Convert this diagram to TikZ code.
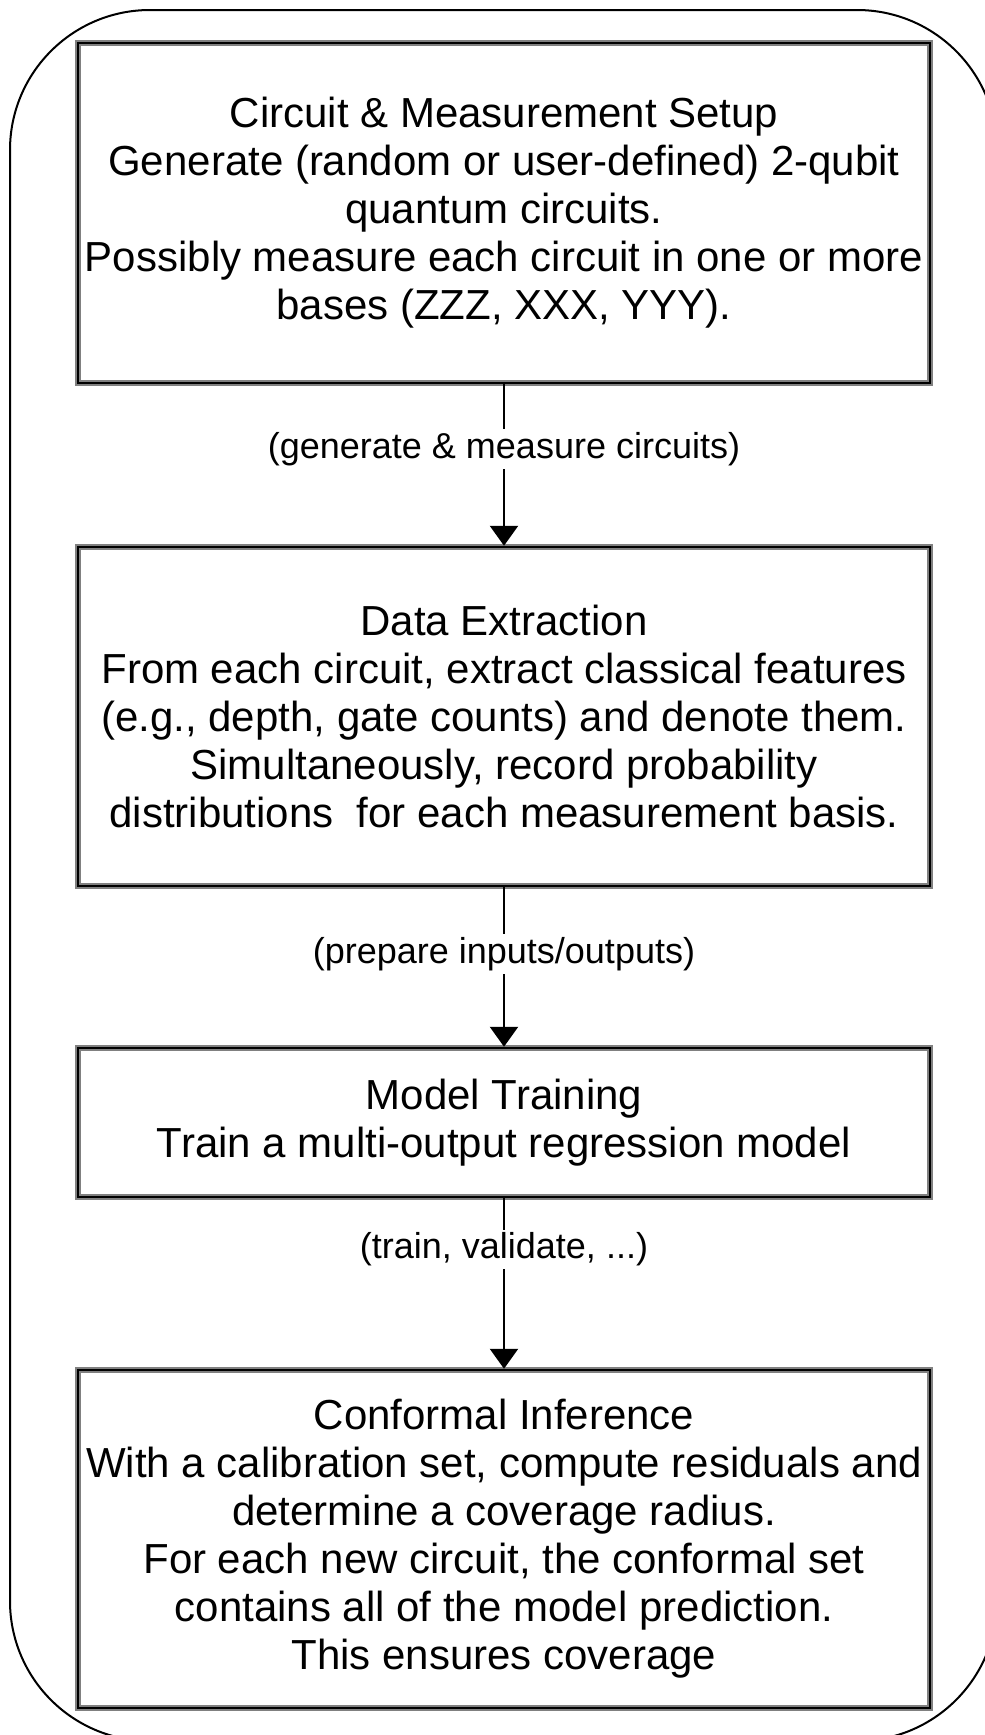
\documentclass[tikz,border=0pt]{standalone}
\usepackage{fontspec}
\setmainfont{Liberation Sans}
\usetikzlibrary{arrows.meta}

\begin{document}
\begin{tikzpicture}[x=1pt,y=-1pt]
    \tikzstyle{stage} = [draw=black,line width=2.5pt,
                         preaction={draw=black!50,line width=6pt},
                         minimum width=852pt,inner sep=0pt,align=center,
                         font=\fontsize{42}{48}\selectfont]
    \tikzstyle{flowlabel} = [fill=white,inner sep=3pt,
                             font=\fontsize{36}{40}\selectfont]
    \tikzstyle{flow} = [line width=2.5pt,-{Triangle[width=28pt,length=20pt]}]

    \useasboundingbox (0,0) rectangle (985,1735);
    % outer frame, it runs past the page at right and bottom
    \draw[line width=2pt,rounded corners=140pt] (10,10) rectangle (997,1741);

    \node[stage,minimum height=340pt] (setup) at (504,213)
        {Circuit \& Measurement Setup\\
         Generate (random or user-defined) 2-qubit\\
         quantum circuits.\\
         Possibly measure each circuit in one or more\\
         bases (ZZZ, XXX, YYY).};
    \node[stage,minimum height=339pt] (extract) at (504,716.5)
        {Data Extraction\\
         From each circuit, extract classical features\\
         (e.g., depth, gate counts) and denote them.\\
         Simultaneously, record probability\\
         distributions\ \ for each measurement basis.};
    \node[stage,minimum height=149pt] (train) at (504,1122.5)
        {Model Training\\
         Train a multi-output regression model};
    \node[stage,minimum height=338pt] (conformal) at (504,1539)
        {Conformal Inference\\
         With a calibration set, compute residuals and\\
         determine a coverage radius.\\
         For each new circuit, the conformal set\\
         contains all of the model prediction.\\
         This ensures coverage};

    \draw[flow] (setup) -- node[flowlabel,pos=.4] {(generate \& measure circuits)}
                (extract);
    \draw[flow] (extract) -- node[flowlabel,pos=.42] {(prepare inputs/outputs)}
                (train);
    \draw[flow] (train) -- node[flowlabel,pos=.3] {(train, validate, ...)}
                (conformal);
\end{tikzpicture}
\end{document}
